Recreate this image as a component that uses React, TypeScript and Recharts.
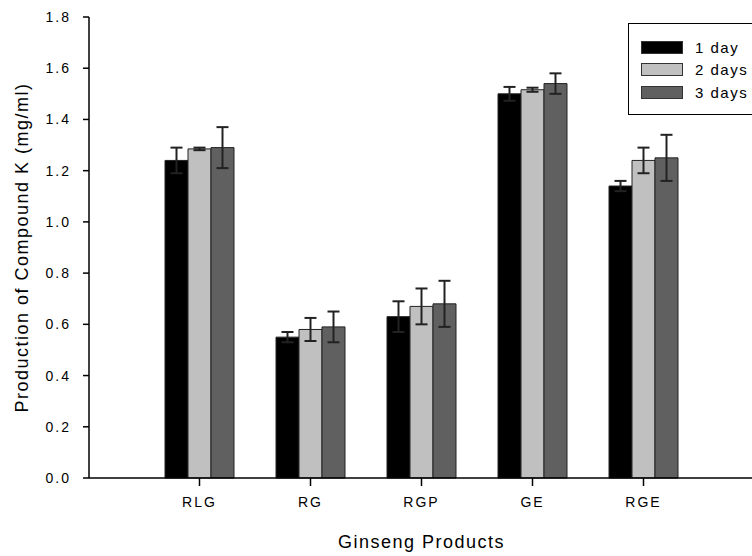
import React from "react";
import { BarChart, Bar, XAxis, YAxis, ErrorBar } from "recharts";

const products = ["RLG", "RG", "RGP", "GE", "RGE"];

const day1 = [1.24, 0.55, 0.63, 1.5, 1.14];
const day1Err = [0.05, 0.02, 0.06, 0.027, 0.02];

const day2 = [1.285, 0.58, 0.67, 1.516, 1.24];
const day2Err = [0.005, 0.045, 0.07, 0.008, 0.05];

const day3 = [1.29, 0.59, 0.68, 1.54, 1.25];
const day3Err = [0.08, 0.06, 0.09, 0.04, 0.09];

const yTicks = [0, 0.2, 0.4, 0.6, 0.8, 1.0, 1.2, 1.4, 1.6, 1.8];

const seriesInfo = [
  { key: "d1", label: "1 day", color: "#000000" },
  { key: "d2", label: "2 days", color: "#c0c0c0" },
  { key: "d3", label: "3 days", color: "#606060" },
];

const data = products.map((name, i) => ({
  name,
  d1: day1[i],
  e1: day1Err[i],
  d2: day2[i],
  e2: day2Err[i],
  d3: day3[i],
  e3: day3Err[i],
}));

const font = "'Liberation Sans', Arial, sans-serif";

const tickStyle = {
  fontSize: 14,
  fill: "#000",
  fontFamily: font,
  letterSpacing: 2,
};

function LegendBox() {
  return (
    <div
      style={{
        position: "absolute",
        left: 628,
        top: 23,
        width: 140,
        border: "1px solid #000",
        background: "#fff",
        padding: "12px 0 10px 12px",
        fontFamily: font,
        fontSize: 15,
        letterSpacing: 1.5,
        color: "#000",
        whiteSpace: "nowrap",
      }}
    >
      {seriesInfo.map((s) => (
        <div
          key={s.key}
          style={{ display: "flex", alignItems: "center", height: 22.5 }}
        >
          <span
            style={{
              display: "inline-block",
              width: 40,
              height: 11,
              background: s.color,
              border: "1px solid #333",
              marginRight: 12,
            }}
          />
          {s.label}
        </div>
      ))}
    </div>
  );
}

export default function App() {
  return (
    <div
      style={{
        position: "absolute",
        left: 0,
        top: 0,
        width: 752,
        height: 556,
        overflow: "hidden",
        background: "#fff",
        fontFamily: font,
      }}
    >
      <BarChart
        width={760}
        height={556}
        data={data}
        margin={{ top: 17, right: 6, bottom: 0, left: 0 }}
        barGap={0}
        barSize={23}
      >
        <XAxis
          dataKey="name"
          padding={{ left: 55, right: 55 }}
          axisLine={{ stroke: "#000", strokeWidth: 1.5 }}
          tickLine={{ stroke: "#000", strokeWidth: 1.5 }}
          tickSize={8}
          tickMargin={11}
          tick={tickStyle}
          height={78}
          label={{
            value: "Ginseng Products",
            position: "insideBottom",
            offset: 8,
            fontSize: 18,
            letterSpacing: 1.5,
            fill: "#000",
            fontFamily: font,
          }}
        />
        <YAxis
          domain={[0, 1.8]}
          ticks={yTicks}
          interval={0}
          width={89}
          tickFormatter={(v: number) => v.toFixed(1)}
          axisLine={{ stroke: "#000", strokeWidth: 1.5 }}
          tickLine={{ stroke: "#000", strokeWidth: 1.5 }}
          tickSize={6}
          tickMargin={12}
          tick={tickStyle}
          label={{
            value: "Production of Compound K (mg/ml)",
            angle: -90,
            position: "insideLeft",
            offset: 22,
            style: { textAnchor: "middle" },
            fontSize: 18,
            letterSpacing: 1.5,
            fill: "#000",
            fontFamily: font,
          }}
        />
        <Bar
          dataKey="d1"
          fill="#000000"
          stroke="#222"
          strokeWidth={1}
          isAnimationActive={false}
        >
          <ErrorBar dataKey="e1" width={6} stroke="#222" strokeWidth={2} />
        </Bar>
        <Bar
          dataKey="d2"
          fill="#c0c0c0"
          stroke="#222"
          strokeWidth={1}
          isAnimationActive={false}
        >
          <ErrorBar dataKey="e2" width={6} stroke="#222" strokeWidth={2} />
        </Bar>
        <Bar
          dataKey="d3"
          fill="#606060"
          stroke="#222"
          strokeWidth={1}
          isAnimationActive={false}
        >
          <ErrorBar dataKey="e3" width={6} stroke="#222" strokeWidth={2} />
        </Bar>
      </BarChart>
      <LegendBox />
    </div>
  );
}
